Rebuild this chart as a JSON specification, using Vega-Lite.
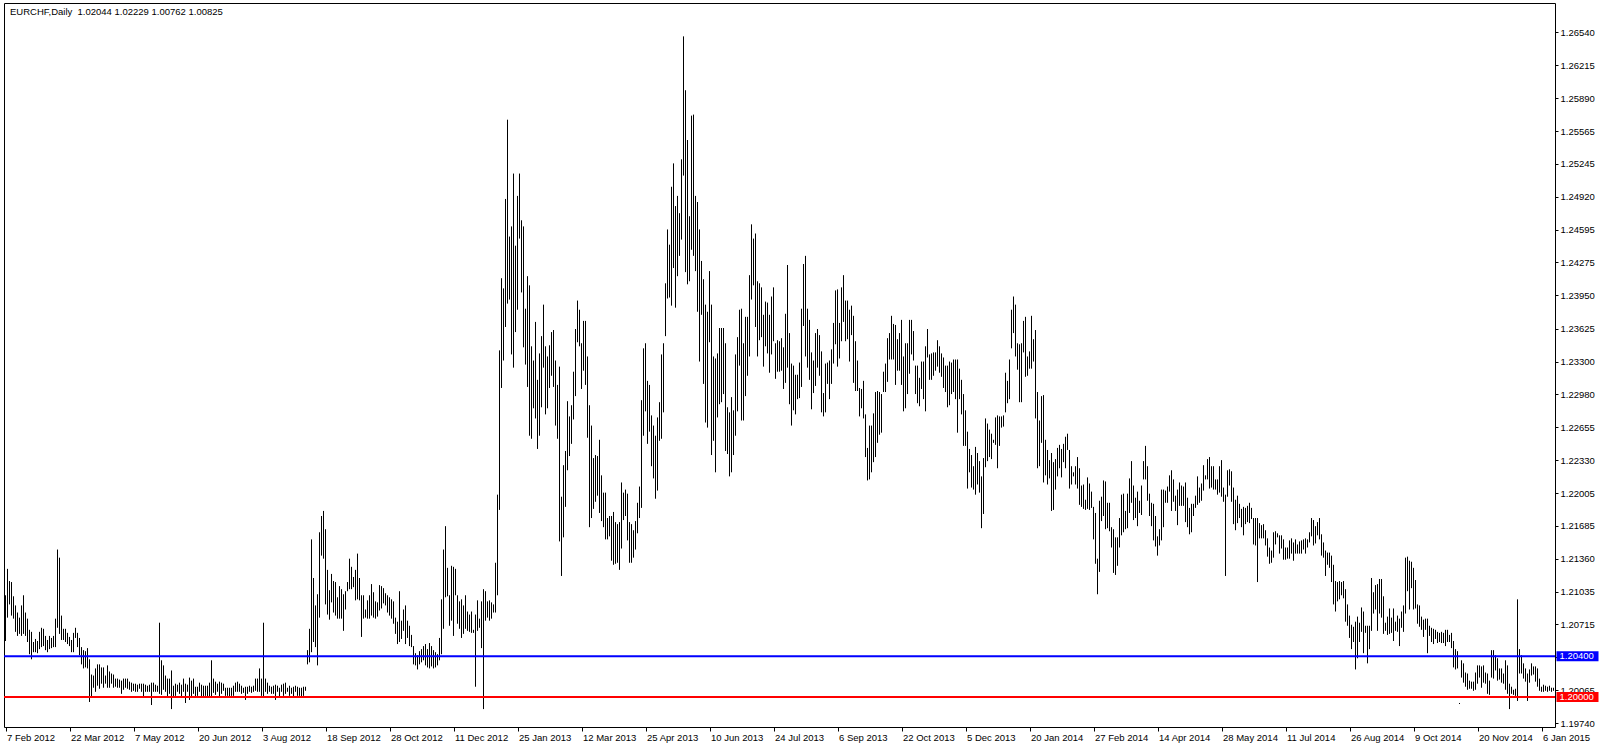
{
"$schema":"https://vega.github.io/schema/vega-lite/v6.json",
"width":1551,"height":724,
"autosize":{"type":"none"},
"padding":{"left":4,"top":3,"right":45,"bottom":20},
"background":"white",
"title":{"text":"EURCHF,Daily\u00a0 1.02044 1.02229 1.00762 1.00825","anchor":"start","frame":"group","orient":"top","baseline":"top","offset":-4,"dx":6,"dy":9,"font":"Liberation Sans","fontSize":9.5,"fontWeight":"normal","color":"black"},
"config":{"view":{"stroke":"black","strokeWidth":1},"axis":{"labelFont":"Liberation Sans","labelFontSize":9.5,"labelColor":"black","tickColor":"black","tickWidth":1,"domain":false,"grid":false,"zindex":0,"labelOverlap":false,"labelFlush":false,"labelBound":false}},
"datasets":{
"levels":[{"level":1.204,"name":"upper"},{"level":1.2,"name":"lower"}],
"bars":[
{"i":0,"h":1.2100,"l":1.2055},{"i":1,"h":1.2126,"l":1.2078},{"i":2,"h":1.2114,"l":1.2091},{"i":3,"h":1.2113,"l":1.2080},{"i":4,"h":1.2099,"l":1.2077},{"i":5,"h":1.2090,"l":1.2064},{"i":6,"h":1.2083,"l":1.2060},{"i":7,"h":1.2078,"l":1.2062},{"i":8,"h":1.2090,"l":1.2060},{"i":9,"h":1.2100,"l":1.2062},
{"i":10,"h":1.2083,"l":1.2060},{"i":11,"h":1.2077,"l":1.2054},{"i":12,"h":1.2066,"l":1.2042},{"i":13,"h":1.2064,"l":1.2037},{"i":14,"h":1.2054,"l":1.2044},{"i":15,"h":1.2057,"l":1.2044},{"i":16,"h":1.2055,"l":1.2043},{"i":17,"h":1.2064,"l":1.2047},{"i":18,"h":1.2068,"l":1.2049},{"i":19,"h":1.2067,"l":1.2050},
{"i":20,"h":1.2060,"l":1.2046},{"i":21,"h":1.2056,"l":1.2044},{"i":22,"h":1.2060,"l":1.2047},{"i":23,"h":1.2058,"l":1.2048},{"i":24,"h":1.2060,"l":1.2049},{"i":25,"h":1.2077,"l":1.2049},{"i":26,"h":1.2145,"l":1.2068},{"i":27,"h":1.2137,"l":1.2062},{"i":28,"h":1.2080,"l":1.2056},{"i":29,"h":1.2067,"l":1.2056},
{"i":30,"h":1.2067,"l":1.2054},{"i":31,"h":1.2063,"l":1.2052},{"i":32,"h":1.2059,"l":1.2050},{"i":33,"h":1.2056,"l":1.2044},{"i":34,"h":1.2063,"l":1.2044},{"i":35,"h":1.2068,"l":1.2058},{"i":36,"h":1.2063,"l":1.2049},{"i":37,"h":1.2058,"l":1.2041},{"i":38,"h":1.2049,"l":1.2032},{"i":39,"h":1.2046,"l":1.2028},
{"i":40,"h":1.2045,"l":1.2029},{"i":41,"h":1.2048,"l":1.2028},{"i":42,"h":1.2037,"l":1.1995},{"i":43,"h":1.2022,"l":1.2000},{"i":44,"h":1.2021,"l":1.2009},{"i":45,"h":1.2028,"l":1.2005},{"i":46,"h":1.2032,"l":1.2011},{"i":47,"h":1.2032,"l":1.2008},{"i":48,"h":1.2029,"l":1.2013},{"i":49,"h":1.2029,"l":1.2009},
{"i":50,"h":1.2021,"l":1.2013},{"i":51,"h":1.2031,"l":1.2009},{"i":52,"h":1.2025,"l":1.2009},{"i":53,"h":1.2023,"l":1.2013},{"i":54,"h":1.2022,"l":1.2009},{"i":55,"h":1.2018,"l":1.2010},{"i":56,"h":1.2018,"l":1.2009},{"i":57,"h":1.2017,"l":1.2009},{"i":58,"h":1.2016,"l":1.2003},{"i":59,"h":1.2018,"l":1.2007},
{"i":60,"h":1.2018,"l":1.2009},{"i":61,"h":1.2018,"l":1.2008},{"i":62,"h":1.2015,"l":1.2007},{"i":63,"h":1.2014,"l":1.2005},{"i":64,"h":1.2013,"l":1.2006},{"i":65,"h":1.2013,"l":1.2005},{"i":66,"h":1.2012,"l":1.2005},{"i":67,"h":1.2013,"l":1.2008},{"i":68,"h":1.2013,"l":1.2005},{"i":69,"h":1.2013,"l":1.2000},
{"i":70,"h":1.2012,"l":1.2005},{"i":71,"h":1.2011,"l":1.2005},{"i":72,"h":1.2012,"l":1.2005},{"i":73,"h":1.2014,"l":1.1992},{"i":74,"h":1.2014,"l":1.2005},{"i":75,"h":1.2012,"l":1.2005},{"i":76,"h":1.2011,"l":1.2005},{"i":77,"h":1.2073,"l":1.2003},{"i":78,"h":1.2036,"l":1.2002},{"i":79,"h":1.2031,"l":1.2007},
{"i":80,"h":1.2021,"l":1.2005},{"i":81,"h":1.2018,"l":1.2000},{"i":82,"h":1.2018,"l":1.2003},{"i":83,"h":1.2026,"l":1.1988},{"i":84,"h":1.2011,"l":1.2000},{"i":85,"h":1.2013,"l":1.2001},{"i":86,"h":1.2012,"l":1.2005},{"i":87,"h":1.2014,"l":1.2003},{"i":88,"h":1.2012,"l":1.2000},{"i":89,"h":1.2018,"l":1.2005},
{"i":90,"h":1.2013,"l":1.1994},{"i":91,"h":1.2012,"l":1.2005},{"i":92,"h":1.2019,"l":1.1997},{"i":93,"h":1.2016,"l":1.2000},{"i":94,"h":1.2018,"l":1.2003},{"i":95,"h":1.2010,"l":1.2000},{"i":96,"h":1.2010,"l":1.2001},{"i":97,"h":1.2014,"l":1.2005},{"i":98,"h":1.2012,"l":1.2000},{"i":99,"h":1.2011,"l":1.2000},
{"i":100,"h":1.2011,"l":1.2001},{"i":101,"h":1.2011,"l":1.2000},{"i":102,"h":1.2014,"l":1.2000},{"i":103,"h":1.2036,"l":1.2000},{"i":104,"h":1.2018,"l":1.2004},{"i":105,"h":1.2015,"l":1.2002},{"i":106,"h":1.2013,"l":1.2005},{"i":107,"h":1.2015,"l":1.2000},{"i":108,"h":1.2014,"l":1.2003},{"i":109,"h":1.2013,"l":1.2006},
{"i":110,"h":1.2009,"l":1.2001},{"i":111,"h":1.2009,"l":1.2001},{"i":112,"h":1.2009,"l":1.2000},{"i":113,"h":1.2009,"l":1.2001},{"i":114,"h":1.2011,"l":1.2001},{"i":115,"h":1.2014,"l":1.2005},{"i":116,"h":1.2015,"l":1.2005},{"i":117,"h":1.2013,"l":1.2005},{"i":118,"h":1.2011,"l":1.2003},{"i":119,"h":1.2009,"l":1.2004},
{"i":120,"h":1.2010,"l":1.1997},{"i":121,"h":1.2010,"l":1.2003},{"i":122,"h":1.2011,"l":1.2005},{"i":123,"h":1.2010,"l":1.2004},{"i":124,"h":1.2011,"l":1.2005},{"i":125,"h":1.2018,"l":1.2006},{"i":126,"h":1.2018,"l":1.2005},{"i":127,"h":1.2028,"l":1.2005},{"i":128,"h":1.2018,"l":1.2001},{"i":129,"h":1.2073,"l":1.2000},
{"i":130,"h":1.2018,"l":1.2005},{"i":131,"h":1.2014,"l":1.2003},{"i":132,"h":1.2011,"l":1.2005},{"i":133,"h":1.2010,"l":1.2003},{"i":134,"h":1.2011,"l":1.2003},{"i":135,"h":1.2012,"l":1.1997},{"i":136,"h":1.2011,"l":1.2005},{"i":137,"h":1.2009,"l":1.2000},{"i":138,"h":1.2012,"l":1.2005},{"i":139,"h":1.2013,"l":1.2001},
{"i":140,"h":1.2014,"l":1.2003},{"i":141,"h":1.2009,"l":1.2005},{"i":142,"h":1.2011,"l":1.2001},{"i":143,"h":1.2009,"l":1.2003},{"i":144,"h":1.2010,"l":1.2000},{"i":145,"h":1.2011,"l":1.2005},{"i":146,"h":1.2010,"l":1.2001},{"i":147,"h":1.2009,"l":1.2001},{"i":148,"h":1.2009,"l":1.2000},{"i":149,"h":1.2010,"l":1.2001},
{"i":150,"h":1.2010,"l":1.2006},{"i":151,"h":1.2046,"l":1.2032},{"i":152,"h":1.2067,"l":1.2034},{"i":153,"h":1.2155,"l":1.2044},{"i":154,"h":1.2117,"l":1.2054},{"i":155,"h":1.2090,"l":1.2049},{"i":156,"h":1.2101,"l":1.2031},{"i":157,"h":1.2162,"l":1.2078},{"i":158,"h":1.2178,"l":1.2139},{"i":159,"h":1.2183,"l":1.2136},
{"i":160,"h":1.2165,"l":1.2091},{"i":161,"h":1.2125,"l":1.2081},{"i":162,"h":1.2105,"l":1.2076},{"i":163,"h":1.2121,"l":1.2093},{"i":164,"h":1.2114,"l":1.2083},{"i":165,"h":1.2113,"l":1.2080},{"i":166,"h":1.2098,"l":1.2077},{"i":167,"h":1.2109,"l":1.2077},{"i":168,"h":1.2106,"l":1.2077},{"i":169,"h":1.2101,"l":1.2065},
{"i":170,"h":1.2104,"l":1.2086},{"i":171,"h":1.2113,"l":1.2104},{"i":172,"h":1.2136,"l":1.2106},{"i":173,"h":1.2128,"l":1.2106},{"i":174,"h":1.2118,"l":1.2108},{"i":175,"h":1.2125,"l":1.2095},{"i":176,"h":1.2141,"l":1.2096},{"i":177,"h":1.2117,"l":1.2095},{"i":178,"h":1.2100,"l":1.2059},{"i":179,"h":1.2100,"l":1.2077},
{"i":180,"h":1.2086,"l":1.2078},{"i":181,"h":1.2095,"l":1.2077},{"i":182,"h":1.2100,"l":1.2077},{"i":183,"h":1.2111,"l":1.2080},{"i":184,"h":1.2103,"l":1.2078},{"i":185,"h":1.2094,"l":1.2077},{"i":186,"h":1.2093,"l":1.2079},{"i":187,"h":1.2110,"l":1.2085},{"i":188,"h":1.2109,"l":1.2087},{"i":189,"h":1.2107,"l":1.2092},
{"i":190,"h":1.2102,"l":1.2090},{"i":191,"h":1.2100,"l":1.2083},{"i":192,"h":1.2098,"l":1.2080},{"i":193,"h":1.2096,"l":1.2077},{"i":194,"h":1.2094,"l":1.2072},{"i":195,"h":1.2078,"l":1.2062},{"i":196,"h":1.2074,"l":1.2052},{"i":197,"h":1.2104,"l":1.2054},{"i":198,"h":1.2075,"l":1.2057},{"i":199,"h":1.2086,"l":1.2065},
{"i":200,"h":1.2090,"l":1.2052},{"i":201,"h":1.2075,"l":1.2058},{"i":202,"h":1.2070,"l":1.2050},{"i":203,"h":1.2061,"l":1.2049},{"i":204,"h":1.2050,"l":1.2032},{"i":205,"h":1.2043,"l":1.2031},{"i":206,"h":1.2041,"l":1.2027},{"i":207,"h":1.2045,"l":1.2032},{"i":208,"h":1.2047,"l":1.2034},{"i":209,"h":1.2050,"l":1.2036},
{"i":210,"h":1.2052,"l":1.2031},{"i":211,"h":1.2047,"l":1.2029},{"i":212,"h":1.2053,"l":1.2028},{"i":213,"h":1.2050,"l":1.2030},{"i":214,"h":1.2046,"l":1.2028},{"i":215,"h":1.2044,"l":1.2029},{"i":216,"h":1.2042,"l":1.2031},{"i":217,"h":1.2058,"l":1.2036},{"i":218,"h":1.2096,"l":1.2042},{"i":219,"h":1.2145,"l":1.2067},
{"i":220,"h":1.2168,"l":1.2098},{"i":221,"h":1.2127,"l":1.2099},{"i":222,"h":1.2100,"l":1.2070},{"i":223,"h":1.2129,"l":1.2075},{"i":224,"h":1.2128,"l":1.2060},{"i":225,"h":1.2126,"l":1.2100},{"i":226,"h":1.2100,"l":1.2072},{"i":227,"h":1.2094,"l":1.2067},{"i":228,"h":1.2096,"l":1.2058},{"i":229,"h":1.2090,"l":1.2062},
{"i":230,"h":1.2100,"l":1.2067},{"i":231,"h":1.2084,"l":1.2065},{"i":232,"h":1.2081,"l":1.2064},{"i":233,"h":1.2084,"l":1.2063},{"i":234,"h":1.2066,"l":1.2063},{"i":235,"h":1.2081,"l":1.2010},{"i":236,"h":1.2095,"l":1.2065},{"i":237,"h":1.2077,"l":1.2068},{"i":238,"h":1.2094,"l":1.2048},{"i":239,"h":1.2106,"l":1.1988},
{"i":240,"h":1.2104,"l":1.2075},{"i":241,"h":1.2094,"l":1.2078},{"i":242,"h":1.2095,"l":1.2075},{"i":243,"h":1.2093,"l":1.2077},{"i":244,"h":1.2091,"l":1.2083},{"i":245,"h":1.2132,"l":1.2083},{"i":246,"h":1.2199,"l":1.2100},{"i":247,"h":1.2341,"l":1.2184},{"i":248,"h":1.2412,"l":1.2304},{"i":249,"h":1.2402,"l":1.2331},
{"i":250,"h":1.2490,"l":1.2364},{"i":251,"h":1.2568,"l":1.2387},{"i":252,"h":1.2453,"l":1.2391},{"i":253,"h":1.2463,"l":1.2337},{"i":254,"h":1.2515,"l":1.2324},{"i":255,"h":1.2444,"l":1.2359},{"i":256,"h":1.2493,"l":1.2381},{"i":257,"h":1.2515,"l":1.2451},{"i":258,"h":1.2469,"l":1.2398},{"i":259,"h":1.2463,"l":1.2344},
{"i":260,"h":1.2382,"l":1.2327},{"i":261,"h":1.2414,"l":1.2305},{"i":262,"h":1.2405,"l":1.2257},{"i":263,"h":1.2345,"l":1.2254},{"i":264,"h":1.2331,"l":1.2284},{"i":265,"h":1.2369,"l":1.2274},{"i":266,"h":1.2312,"l":1.2244},{"i":267,"h":1.2338,"l":1.2257},{"i":268,"h":1.2355,"l":1.2285},{"i":269,"h":1.2386,"l":1.2324},
{"i":270,"h":1.2345,"l":1.2278},{"i":271,"h":1.2335,"l":1.2284},{"i":272,"h":1.2346,"l":1.2304},{"i":273,"h":1.2359,"l":1.2316},{"i":274,"h":1.2361,"l":1.2305},{"i":275,"h":1.2331,"l":1.2267},{"i":276,"h":1.2307,"l":1.2254},{"i":277,"h":1.2325,"l":1.2153},{"i":278,"h":1.2197,"l":1.2119},{"i":279,"h":1.2228,"l":1.2157},
{"i":280,"h":1.2242,"l":1.2187},{"i":281,"h":1.2291,"l":1.2223},{"i":282,"h":1.2276,"l":1.2237},{"i":283,"h":1.2287,"l":1.2249},{"i":284,"h":1.2320,"l":1.2273},{"i":285,"h":1.2362,"l":1.2296},{"i":286,"h":1.2390,"l":1.2349},{"i":287,"h":1.2381,"l":1.2345},{"i":288,"h":1.2348,"l":1.2303},{"i":289,"h":1.2370,"l":1.2321},
{"i":290,"h":1.2370,"l":1.2307},{"i":291,"h":1.2335,"l":1.2255},{"i":292,"h":1.2287,"l":1.2167},{"i":293,"h":1.2267,"l":1.2176},{"i":294,"h":1.2235,"l":1.2185},{"i":295,"h":1.2238,"l":1.2192},{"i":296,"h":1.2237,"l":1.2198},{"i":297,"h":1.2253,"l":1.2181},{"i":298,"h":1.2218,"l":1.2173},{"i":299,"h":1.2201,"l":1.2167},
{"i":300,"h":1.2201,"l":1.2155},{"i":301,"h":1.2176,"l":1.2155},{"i":302,"h":1.2178,"l":1.2158},{"i":303,"h":1.2178,"l":1.2134},{"i":304,"h":1.2182,"l":1.2130},{"i":305,"h":1.2172,"l":1.2131},{"i":306,"h":1.2170,"l":1.2132},{"i":307,"h":1.2172,"l":1.2125},{"i":308,"h":1.2211,"l":1.2146},{"i":309,"h":1.2201,"l":1.2174},
{"i":310,"h":1.2204,"l":1.2178},{"i":311,"h":1.2200,"l":1.2154},{"i":312,"h":1.2172,"l":1.2132},{"i":313,"h":1.2170,"l":1.2132},{"i":314,"h":1.2164,"l":1.2137},{"i":315,"h":1.2173,"l":1.2145},{"i":316,"h":1.2191,"l":1.2161},{"i":317,"h":1.2207,"l":1.2176},{"i":318,"h":1.2292,"l":1.2186},{"i":319,"h":1.2343,"l":1.2257},
{"i":320,"h":1.2348,"l":1.2281},{"i":321,"h":1.2311,"l":1.2249},{"i":322,"h":1.2307,"l":1.2261},{"i":323,"h":1.2277,"l":1.2227},{"i":324,"h":1.2267,"l":1.2215},{"i":325,"h":1.2257,"l":1.2195},{"i":326,"h":1.2275,"l":1.2203},{"i":327,"h":1.2290,"l":1.2252},{"i":328,"h":1.2337,"l":1.2254},{"i":329,"h":1.2348,"l":1.2280},
{"i":330,"h":1.2407,"l":1.2355},{"i":331,"h":1.2460,"l":1.2392},{"i":332,"h":1.2445,"l":1.2393},{"i":333,"h":1.2502,"l":1.2385},{"i":334,"h":1.2525,"l":1.2422},{"i":335,"h":1.2483,"l":1.2383},{"i":336,"h":1.2493,"l":1.2414},{"i":337,"h":1.2476,"l":1.2434},{"i":338,"h":1.2529,"l":1.2450},{"i":339,"h":1.2650,"l":1.2513},
{"i":340,"h":1.2597,"l":1.2418},{"i":341,"h":1.2548,"l":1.2406},{"i":342,"h":1.2473,"l":1.2409},{"i":343,"h":1.2572,"l":1.2440},{"i":344,"h":1.2573,"l":1.2434},{"i":345,"h":1.2493,"l":1.2419},{"i":346,"h":1.2487,"l":1.2379},{"i":347,"h":1.2460,"l":1.2330},{"i":348,"h":1.2429,"l":1.2376},{"i":349,"h":1.2411,"l":1.2308},
{"i":350,"h":1.2386,"l":1.2270},{"i":351,"h":1.2379,"l":1.2265},{"i":352,"h":1.2419,"l":1.2349},{"i":353,"h":1.2386,"l":1.2238},{"i":354,"h":1.2335,"l":1.2252},{"i":355,"h":1.2333,"l":1.2221},{"i":356,"h":1.2338,"l":1.2275},{"i":357,"h":1.2363,"l":1.2288},{"i":358,"h":1.2363,"l":1.2290},{"i":359,"h":1.2363,"l":1.2298},
{"i":360,"h":1.2348,"l":1.2242},{"i":361,"h":1.2285,"l":1.2239},{"i":362,"h":1.2280,"l":1.2217},{"i":363,"h":1.2295,"l":1.2221},{"i":364,"h":1.2282,"l":1.2238},{"i":365,"h":1.2337,"l":1.2257},{"i":366,"h":1.2354,"l":1.2281},{"i":367,"h":1.2381,"l":1.2326},{"i":368,"h":1.2382,"l":1.2272},{"i":369,"h":1.2348,"l":1.2272},
{"i":370,"h":1.2374,"l":1.2296},{"i":371,"h":1.2374,"l":1.2316},{"i":372,"h":1.2415,"l":1.2335},{"i":373,"h":1.2465,"l":1.2391},{"i":374,"h":1.2451,"l":1.2405},{"i":375,"h":1.2456,"l":1.2364},{"i":376,"h":1.2409,"l":1.2335},{"i":377,"h":1.2407,"l":1.2351},{"i":378,"h":1.2403,"l":1.2354},{"i":379,"h":1.2376,"l":1.2325},
{"i":380,"h":1.2389,"l":1.2345},{"i":381,"h":1.2388,"l":1.2338},{"i":382,"h":1.2376,"l":1.2319},{"i":383,"h":1.2394,"l":1.2337},{"i":384,"h":1.2403,"l":1.2350},{"i":385,"h":1.2348,"l":1.2313},{"i":386,"h":1.2351,"l":1.2320},{"i":387,"h":1.2350,"l":1.2320},{"i":388,"h":1.2353,"l":1.2321},{"i":389,"h":1.2344,"l":1.2303},
{"i":390,"h":1.2377,"l":1.2309},{"i":391,"h":1.2425,"l":1.2324},{"i":392,"h":1.2358,"l":1.2288},{"i":393,"h":1.2328,"l":1.2267},{"i":394,"h":1.2326,"l":1.2282},{"i":395,"h":1.2317,"l":1.2278},{"i":396,"h":1.2317,"l":1.2293},{"i":397,"h":1.2329,"l":1.2294},{"i":398,"h":1.2382,"l":1.2305},{"i":399,"h":1.2426,"l":1.2365},
{"i":400,"h":1.2434,"l":1.2335},{"i":401,"h":1.2382,"l":1.2324},{"i":402,"h":1.2371,"l":1.2312},{"i":403,"h":1.2339,"l":1.2283},{"i":404,"h":1.2331,"l":1.2299},{"i":405,"h":1.2358,"l":1.2306},{"i":406,"h":1.2362,"l":1.2324},{"i":407,"h":1.2356,"l":1.2316},{"i":408,"h":1.2340,"l":1.2280},{"i":409,"h":1.2299,"l":1.2276},
{"i":410,"h":1.2328,"l":1.2280},{"i":411,"h":1.2329,"l":1.2308},{"i":412,"h":1.2331,"l":1.2293},{"i":413,"h":1.2342,"l":1.2308},{"i":414,"h":1.2368,"l":1.2328},{"i":415,"h":1.2400,"l":1.2347},{"i":416,"h":1.2401,"l":1.2325},{"i":417,"h":1.2368,"l":1.2333},{"i":418,"h":1.2403,"l":1.2350},{"i":419,"h":1.2415,"l":1.2369},
{"i":420,"h":1.2390,"l":1.2350},{"i":421,"h":1.2390,"l":1.2352},{"i":422,"h":1.2381,"l":1.2330},{"i":423,"h":1.2385,"l":1.2356},{"i":424,"h":1.2375,"l":1.2309},{"i":425,"h":1.2350,"l":1.2301},{"i":426,"h":1.2331,"l":1.2301},{"i":427,"h":1.2304,"l":1.2276},{"i":428,"h":1.2303,"l":1.2284},{"i":429,"h":1.2311,"l":1.2274},
{"i":430,"h":1.2278,"l":1.2236},{"i":431,"h":1.2245,"l":1.2213},{"i":432,"h":1.2267,"l":1.2214},{"i":433,"h":1.2267,"l":1.2221},{"i":434,"h":1.2279,"l":1.2231},{"i":435,"h":1.2300,"l":1.2236},{"i":436,"h":1.2301,"l":1.2250},{"i":437,"h":1.2300,"l":1.2258},{"i":438,"h":1.2298,"l":1.2260},{"i":439,"h":1.2320,"l":1.2300},
{"i":440,"h":1.2328,"l":1.2300},{"i":441,"h":1.2353,"l":1.2310},{"i":442,"h":1.2358,"l":1.2332},{"i":443,"h":1.2375,"l":1.2332},{"i":444,"h":1.2367,"l":1.2332},{"i":445,"h":1.2366,"l":1.2307},{"i":446,"h":1.2352,"l":1.2321},{"i":447,"h":1.2358,"l":1.2321},{"i":448,"h":1.2371,"l":1.2307},{"i":449,"h":1.2335,"l":1.2281},
{"i":450,"h":1.2348,"l":1.2284},{"i":451,"h":1.2348,"l":1.2298},{"i":452,"h":1.2371,"l":1.2318},{"i":453,"h":1.2371,"l":1.2337},{"i":454,"h":1.2360,"l":1.2331},{"i":455,"h":1.2326,"l":1.2298},{"i":456,"h":1.2326,"l":1.2289},{"i":457,"h":1.2314,"l":1.2286},{"i":458,"h":1.2330,"l":1.2303},{"i":459,"h":1.2330,"l":1.2293},
{"i":460,"h":1.2345,"l":1.2281},{"i":461,"h":1.2362,"l":1.2334},{"i":462,"h":1.2337,"l":1.2312},{"i":463,"h":1.2338,"l":1.2312},{"i":464,"h":1.2339,"l":1.2316},{"i":465,"h":1.2339,"l":1.2321},{"i":466,"h":1.2351,"l":1.2325},{"i":467,"h":1.2345,"l":1.2319},{"i":468,"h":1.2338,"l":1.2315},{"i":469,"h":1.2334,"l":1.2304},
{"i":470,"h":1.2326,"l":1.2300},{"i":471,"h":1.2326,"l":1.2285},{"i":472,"h":1.2330,"l":1.2287},{"i":473,"h":1.2329,"l":1.2298},{"i":474,"h":1.2332,"l":1.2300},{"i":475,"h":1.2332,"l":1.2293},{"i":476,"h":1.2332,"l":1.2260},{"i":477,"h":1.2323,"l":1.2293},{"i":478,"h":1.2312,"l":1.2278},{"i":479,"h":1.2298,"l":1.2247},
{"i":480,"h":1.2282,"l":1.2247},{"i":481,"h":1.2261,"l":1.2205},{"i":482,"h":1.2244,"l":1.2221},{"i":483,"h":1.2238,"l":1.2206},{"i":484,"h":1.2227,"l":1.2204},{"i":485,"h":1.2246,"l":1.2199},{"i":486,"h":1.2240,"l":1.2209},{"i":487,"h":1.2232,"l":1.2201},{"i":488,"h":1.2217,"l":1.2166},{"i":489,"h":1.2235,"l":1.2180},
{"i":490,"h":1.2274,"l":1.2226},{"i":491,"h":1.2269,"l":1.2232},{"i":492,"h":1.2263,"l":1.2236},{"i":493,"h":1.2259,"l":1.2234},{"i":494,"h":1.2253,"l":1.2250},{"i":495,"h":1.2275,"l":1.2248},{"i":496,"h":1.2277,"l":1.2225},{"i":497,"h":1.2276,"l":1.2247},{"i":498,"h":1.2276,"l":1.2265},{"i":499,"h":1.2277,"l":1.2266},
{"i":500,"h":1.2319,"l":1.2280},{"i":501,"h":1.2311,"l":1.2289},{"i":502,"h":1.2332,"l":1.2293},{"i":503,"h":1.2381,"l":1.2343},{"i":504,"h":1.2394,"l":1.2358},{"i":505,"h":1.2386,"l":1.2335},{"i":506,"h":1.2348,"l":1.2322},{"i":507,"h":1.2347,"l":1.2290},{"i":508,"h":1.2348,"l":1.2290},{"i":509,"h":1.2370,"l":1.2339},
{"i":510,"h":1.2374,"l":1.2315},{"i":511,"h":1.2335,"l":1.2316},{"i":512,"h":1.2340,"l":1.2323},{"i":513,"h":1.2375,"l":1.2323},{"i":514,"h":1.2352,"l":1.2330},{"i":515,"h":1.2361,"l":1.2274},{"i":516,"h":1.2300,"l":1.2225},{"i":517,"h":1.2272,"l":1.2227},{"i":518,"h":1.2296,"l":1.2250},{"i":519,"h":1.2297,"l":1.2211},
{"i":520,"h":1.2253,"l":1.2218},{"i":521,"h":1.2243,"l":1.2209},{"i":522,"h":1.2233,"l":1.2215},{"i":523,"h":1.2240,"l":1.2183},{"i":524,"h":1.2231,"l":1.2184},{"i":525,"h":1.2234,"l":1.2204},{"i":526,"h":1.2245,"l":1.2217},{"i":527,"h":1.2248,"l":1.2225},{"i":528,"h":1.2244,"l":1.2216},{"i":529,"h":1.2249,"l":1.2231},
{"i":530,"h":1.2256,"l":1.2225},{"i":531,"h":1.2259,"l":1.2243},{"i":532,"h":1.2243,"l":1.2205},{"i":533,"h":1.2227,"l":1.2209},{"i":534,"h":1.2221,"l":1.2217},{"i":535,"h":1.2227,"l":1.2209},{"i":536,"h":1.2236,"l":1.2205},{"i":537,"h":1.2225,"l":1.2189},{"i":538,"h":1.2208,"l":1.2187},{"i":539,"h":1.2209,"l":1.2185},
{"i":540,"h":1.2194,"l":1.2184},{"i":541,"h":1.2216,"l":1.2185},{"i":542,"h":1.2210,"l":1.2184},{"i":543,"h":1.2202,"l":1.2186},{"i":544,"h":1.2187,"l":1.2155},{"i":545,"h":1.2181,"l":1.2131},{"i":546,"h":1.2136,"l":1.2101},{"i":547,"h":1.2193,"l":1.2123},{"i":548,"h":1.2197,"l":1.2173},{"i":549,"h":1.2213,"l":1.2178},
{"i":550,"h":1.2212,"l":1.2165},{"i":551,"h":1.2191,"l":1.2166},{"i":552,"h":1.2191,"l":1.2163},{"i":553,"h":1.2167,"l":1.2147},{"i":554,"h":1.2165,"l":1.2122},{"i":555,"h":1.2157,"l":1.2120},{"i":556,"h":1.2157,"l":1.2129},{"i":557,"h":1.2176,"l":1.2147},{"i":558,"h":1.2199,"l":1.2159},{"i":559,"h":1.2200,"l":1.2162},
{"i":560,"h":1.2183,"l":1.2165},{"i":561,"h":1.2200,"l":1.2166},{"i":562,"h":1.2215,"l":1.2181},{"i":563,"h":1.2232,"l":1.2191},{"i":564,"h":1.2208,"l":1.2174},{"i":565,"h":1.2196,"l":1.2176},{"i":566,"h":1.2202,"l":1.2168},{"i":567,"h":1.2193,"l":1.2181},{"i":568,"h":1.2208,"l":1.2179},{"i":569,"h":1.2232,"l":1.2214},
{"i":570,"h":1.2247,"l":1.2214},{"i":571,"h":1.2227,"l":1.2193},{"i":572,"h":1.2200,"l":1.2178},{"i":573,"h":1.2191,"l":1.2168},{"i":574,"h":1.2190,"l":1.2154},{"i":575,"h":1.2178,"l":1.2148},{"i":576,"h":1.2158,"l":1.2139},{"i":577,"h":1.2165,"l":1.2149},{"i":578,"h":1.2204,"l":1.2154},{"i":579,"h":1.2204,"l":1.2167},
{"i":580,"h":1.2203,"l":1.2191},{"i":581,"h":1.2207,"l":1.2191},{"i":582,"h":1.2218,"l":1.2202},{"i":583,"h":1.2223,"l":1.2183},{"i":584,"h":1.2214,"l":1.2192},{"i":585,"h":1.2198,"l":1.2183},{"i":586,"h":1.2204,"l":1.2169},{"i":587,"h":1.2211,"l":1.2188},{"i":588,"h":1.2208,"l":1.2188},{"i":589,"h":1.2207,"l":1.2188},
{"i":590,"h":1.2211,"l":1.2172},{"i":591,"h":1.2196,"l":1.2167},{"i":592,"h":1.2186,"l":1.2160},{"i":593,"h":1.2190,"l":1.2162},{"i":594,"h":1.2190,"l":1.2178},{"i":595,"h":1.2198,"l":1.2186},{"i":596,"h":1.2217,"l":1.2189},{"i":597,"h":1.2206,"l":1.2191},{"i":598,"h":1.2210,"l":1.2193},{"i":599,"h":1.2228,"l":1.2203},
{"i":600,"h":1.2218,"l":1.2214},{"i":601,"h":1.2234,"l":1.2214},{"i":602,"h":1.2236,"l":1.2205},{"i":603,"h":1.2227,"l":1.2206},{"i":604,"h":1.2227,"l":1.2204},{"i":605,"h":1.2214,"l":1.2204},{"i":606,"h":1.2214,"l":1.2199},{"i":607,"h":1.2227,"l":1.2201},{"i":608,"h":1.2233,"l":1.2197},{"i":609,"h":1.2206,"l":1.2192},
{"i":610,"h":1.2199,"l":1.2119},{"i":611,"h":1.2223,"l":1.2197},{"i":612,"h":1.2224,"l":1.2208},{"i":613,"h":1.2222,"l":1.2192},{"i":614,"h":1.2206,"l":1.2170},{"i":615,"h":1.2194,"l":1.2164},{"i":616,"h":1.2198,"l":1.2171},{"i":617,"h":1.2190,"l":1.2176},{"i":618,"h":1.2185,"l":1.2167},{"i":619,"h":1.2187,"l":1.2159},
{"i":620,"h":1.2186,"l":1.2170},{"i":621,"h":1.2188,"l":1.2172},{"i":622,"h":1.2191,"l":1.2171},{"i":623,"h":1.2186,"l":1.2175},{"i":624,"h":1.2176,"l":1.2150},{"i":625,"h":1.2176,"l":1.2149},{"i":626,"h":1.2176,"l":1.2113},{"i":627,"h":1.2171,"l":1.2156},{"i":628,"h":1.2169,"l":1.2156},{"i":629,"h":1.2170,"l":1.2156},
{"i":630,"h":1.2164,"l":1.2149},{"i":631,"h":1.2156,"l":1.2138},{"i":632,"h":1.2147,"l":1.2131},{"i":633,"h":1.2144,"l":1.2132},{"i":634,"h":1.2162,"l":1.2137},{"i":635,"h":1.2163,"l":1.2150},{"i":636,"h":1.2161,"l":1.2157},{"i":637,"h":1.2159,"l":1.2141},{"i":638,"h":1.2159,"l":1.2146},{"i":639,"h":1.2155,"l":1.2135},
{"i":640,"h":1.2147,"l":1.2135},{"i":641,"h":1.2147,"l":1.2136},{"i":642,"h":1.2154,"l":1.2136},{"i":643,"h":1.2156,"l":1.2141},{"i":644,"h":1.2152,"l":1.2134},{"i":645,"h":1.2155,"l":1.2141},{"i":646,"h":1.2150,"l":1.2141},{"i":647,"h":1.2153,"l":1.2141},{"i":648,"h":1.2154,"l":1.2141},{"i":649,"h":1.2155,"l":1.2145},
{"i":650,"h":1.2156,"l":1.2141},{"i":651,"h":1.2155,"l":1.2147},{"i":652,"h":1.2162,"l":1.2152},{"i":653,"h":1.2176,"l":1.2158},{"i":654,"h":1.2174,"l":1.2149},{"i":655,"h":1.2168,"l":1.2151},{"i":656,"h":1.2172,"l":1.2159},{"i":657,"h":1.2176,"l":1.2155},{"i":658,"h":1.2160,"l":1.2139},{"i":659,"h":1.2152,"l":1.2137},
{"i":660,"h":1.2144,"l":1.2119},{"i":661,"h":1.2142,"l":1.2130},{"i":662,"h":1.2142,"l":1.2127},{"i":663,"h":1.2139,"l":1.2113},{"i":664,"h":1.2130,"l":1.2091},{"i":665,"h":1.2114,"l":1.2084},{"i":666,"h":1.2113,"l":1.2094},{"i":667,"h":1.2114,"l":1.2096},{"i":668,"h":1.2113,"l":1.2100},{"i":669,"h":1.2114,"l":1.2097},
{"i":670,"h":1.2106,"l":1.2074},{"i":671,"h":1.2091,"l":1.2070},{"i":672,"h":1.2080,"l":1.2058},{"i":673,"h":1.2071,"l":1.2047},{"i":674,"h":1.2069,"l":1.2054},{"i":675,"h":1.2074,"l":1.2027},{"i":676,"h":1.2079,"l":1.2038},{"i":677,"h":1.2073,"l":1.2054},{"i":678,"h":1.2088,"l":1.2064},{"i":679,"h":1.2084,"l":1.2043},
{"i":680,"h":1.2070,"l":1.2063},{"i":681,"h":1.2070,"l":1.2033},{"i":682,"h":1.2070,"l":1.2047},{"i":683,"h":1.2117,"l":1.2065},{"i":684,"h":1.2103,"l":1.2082},{"i":685,"h":1.2110,"l":1.2086},{"i":686,"h":1.2111,"l":1.2065},{"i":687,"h":1.2116,"l":1.2082},{"i":688,"h":1.2116,"l":1.2078},{"i":689,"h":1.2099,"l":1.2062},
{"i":690,"h":1.2073,"l":1.2065},{"i":691,"h":1.2079,"l":1.2061},{"i":692,"h":1.2087,"l":1.2062},{"i":693,"h":1.2078,"l":1.2063},{"i":694,"h":1.2087,"l":1.2055},{"i":695,"h":1.2074,"l":1.2065},{"i":696,"h":1.2080,"l":1.2064},{"i":697,"h":1.2077,"l":1.2050},{"i":698,"h":1.2084,"l":1.2068},{"i":699,"h":1.2090,"l":1.2064},
{"i":700,"h":1.2137,"l":1.2082},{"i":701,"h":1.2138,"l":1.2104},{"i":702,"h":1.2134,"l":1.2086},{"i":703,"h":1.2133,"l":1.2107},{"i":704,"h":1.2127,"l":1.2086},{"i":705,"h":1.2115,"l":1.2087},{"i":706,"h":1.2091,"l":1.2072},{"i":707,"h":1.2090,"l":1.2069},{"i":708,"h":1.2079,"l":1.2066},{"i":709,"h":1.2076,"l":1.2059},
{"i":710,"h":1.2077,"l":1.2066},{"i":711,"h":1.2077,"l":1.2043},{"i":712,"h":1.2070,"l":1.2060},{"i":713,"h":1.2068,"l":1.2054},{"i":714,"h":1.2067,"l":1.2052},{"i":715,"h":1.2066,"l":1.2057},{"i":716,"h":1.2064,"l":1.2053},{"i":717,"h":1.2063,"l":1.2054},{"i":718,"h":1.2064,"l":1.2053},{"i":719,"h":1.2063,"l":1.2053},
{"i":720,"h":1.2066,"l":1.2050},{"i":721,"h":1.2066,"l":1.2054},{"i":722,"h":1.2061,"l":1.2054},{"i":723,"h":1.2063,"l":1.2048},{"i":724,"h":1.2055,"l":1.2029},{"i":725,"h":1.2047,"l":1.2027},{"i":726,"h":1.2045,"l":1.2028},{"i":727,"h":1.1994,"l":1.1993},{"i":728,"h":1.2036,"l":1.2019},{"i":729,"h":1.2033,"l":1.2014},
{"i":730,"h":1.2024,"l":1.2010},{"i":731,"h":1.2023,"l":1.2007},{"i":732,"h":1.2016,"l":1.2008},{"i":733,"h":1.2015,"l":1.2008},{"i":734,"h":1.2015,"l":1.2006},{"i":735,"h":1.2024,"l":1.2007},{"i":736,"h":1.2031,"l":1.2013},{"i":737,"h":1.2031,"l":1.2019},{"i":738,"h":1.2030,"l":1.2009},{"i":739,"h":1.2031,"l":1.2014},
{"i":740,"h":1.2024,"l":1.2013},{"i":741,"h":1.2023,"l":1.2003},{"i":742,"h":1.2016,"l":1.2002},{"i":743,"h":1.2046,"l":1.2019},{"i":744,"h":1.2046,"l":1.2018},{"i":745,"h":1.2041,"l":1.2026},{"i":746,"h":1.2038,"l":1.2016},{"i":747,"h":1.2028,"l":1.2017},{"i":748,"h":1.2028,"l":1.2014},{"i":749,"h":1.2023,"l":1.2013},
{"i":750,"h":1.2036,"l":1.2007},{"i":751,"h":1.2031,"l":1.2003},{"i":752,"h":1.2013,"l":1.1988},{"i":753,"h":1.2010,"l":1.2003},{"i":754,"h":1.2007,"l":1.2002},{"i":755,"h":1.2008,"l":1.2001},{"i":756,"h":1.2096,"l":1.1996},{"i":757,"h":1.2047,"l":1.2023},{"i":758,"h":1.2041,"l":1.2023},{"i":759,"h":1.2033,"l":1.2018},
{"i":760,"h":1.2028,"l":1.2015},{"i":761,"h":1.2023,"l":1.1996},{"i":762,"h":1.2027,"l":1.2014},{"i":763,"h":1.2033,"l":1.2021},{"i":764,"h":1.2030,"l":1.2022},{"i":765,"h":1.2030,"l":1.2015},{"i":766,"h":1.2028,"l":1.2010},{"i":767,"h":1.2018,"l":1.2006},{"i":768,"h":1.2010,"l":1.2005},{"i":769,"h":1.2012,"l":1.2005},
{"i":770,"h":1.2011,"l":1.2006},{"i":771,"h":1.2010,"l":1.2005},{"i":772,"h":1.2011,"l":1.2006},{"i":773,"h":1.2009,"l":1.2005},{"i":774,"h":1.2009,"l":1.2006}
]},
"layer":[
{"data":{"name":"bars"},
 "mark":{"type":"rule","color":"black","strokeWidth":1},
 "encoding":{
  "x":{"field":"i","type":"quantitative","title":null,"scale":{"domain":[-0.75,774.75],"nice":false,"zero":false},
   "axis":{"values":[0,32,64,96,128,160,192,224,256,288,320,352,384,416,448,480,512,544,576,608,640,672,704,736,768],"tickCount":60,
    "labelExpr":"['7 Feb 2012','22 Mar 2012','7 May 2012','20 Jun 2012','3 Aug 2012','18 Sep 2012','28 Oct 2012','11 Dec 2012','25 Jan 2013','12 Mar 2013','25 Apr 2013','10 Jun 2013','24 Jul 2013','6 Sep 2013','22 Oct 2013','5 Dec 2013','20 Jan 2014','27 Feb 2014','14 Apr 2014','28 May 2014','11 Jul 2014','26 Aug 2014','9 Oct 2014','20 Nov 2014','6 Jan 2015'][round(datum.value/32)]",
    "labelAlign":"left","labelBaseline":"top","labelOffset":1,"labelPadding":1,"tickSize":4,"labelOverlap":false,"labelFlush":false,"labelBound":false}},
  "y":{"field":"l","type":"quantitative","title":null,"scale":{"domain":[1.197037,1.268283],"nice":false,"zero":false},
   "axis":{"orient":"right","values":[1.2654,1.26215,1.2589,1.25565,1.25245,1.2492,1.24595,1.24275,1.2395,1.23625,1.233,1.2298,1.22655,1.2233,1.22005,1.21685,1.2136,1.21035,1.20715,1.2039,1.20065,1.1974],"tickCount":60,
    "format":".5f","tickSize":3,"labelPadding":2,"labelAlign":"left","labelBaseline":"middle","labelOverlap":false,"labelFlush":false,"labelBound":false}},
  "y2":{"field":"h"}
 }},
{"data":{"name":"levels"},
 "mark":{"type":"rule","strokeWidth":2},
 "encoding":{
  "y":{"field":"level","type":"quantitative","title":null},
  "color":{"field":"name","type":"nominal","scale":{"domain":["upper","lower"],"range":["#0000ff","#ff0000"]},"legend":null}
 }},
{"data":{"name":"levels"},
 "mark":{"type":"rect","height":10},
 "encoding":{
  "x":{"datum":775.5,"type":"quantitative","title":null},
  "x2":{"datum":796.5},
  "y":{"field":"level","type":"quantitative","title":null},
  "color":{"field":"name","type":"nominal","legend":null}
 }},
{"data":{"name":"levels"},
 "mark":{"type":"text","align":"left","baseline":"middle","color":"white","font":"Liberation Sans","fontSize":9.5},
 "encoding":{
  "x":{"datum":777,"type":"quantitative","title":null},
  "y":{"field":"level","type":"quantitative","title":null},
  "text":{"field":"level","type":"quantitative","format":".5f"}
 }}
]
}
